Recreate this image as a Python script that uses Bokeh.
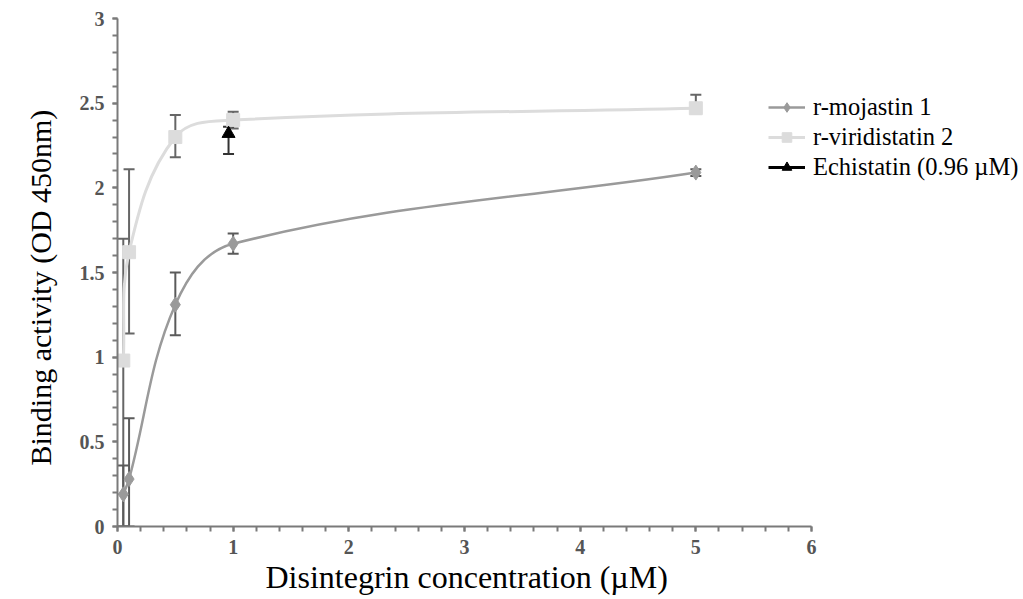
import numpy as np
from bokeh.plotting import figure
from bokeh.models import (ColumnDataSource, Whisker, TeeHead, Legend, LegendItem,
                          FixedTicker, Range1d, Title)
from bokeh.embed import file_html
from bokeh.resources import INLINE

# ---------------- data ----------------
conc = [0.05, 0.1, 0.5, 1, 5]
mojastin = [0.19, 0.28, 1.31, 1.67, 2.09]
mojastin_lo = [0.0, 0.0, 1.13, 1.61, 2.07]
mojastin_hi = [0.36, 0.64, 1.50, 1.73, 2.11]

viridistatin = [0.98, 1.62, 2.30, 2.40, 2.47]
viridistatin_lo = [0.0, 1.14, 2.18, 2.35, 2.44]
viridistatin_hi = [1.70, 2.11, 2.43, 2.45, 2.55]

echi_conc = [0.96]
echistatin = [2.32]
echistatin_lo = [2.20]
echistatin_hi = [2.36]

x_ticks = [0, 1, 2, 3, 4, 5, 6]
y_ticks = [0, 0.5, 1, 1.5, 2, 2.5, 3]

SERIF = "Liberation Serif"

W, H = 1022, 597
LEFT, TOP, BOTTOM = 117, 18, 71
AXIS_PX = 694.0            # pixel length of the 0..6 axis
frame_w = W - LEFT
x_end = 6 * frame_w / AXIS_PX

p = figure(width=W, height=H, output_backend="svg", toolbar_location=None,
           x_range=Range1d(0, x_end), y_range=Range1d(0, 3),
           min_border_left=LEFT, min_border_right=0, min_border_top=TOP,
           min_border_bottom=BOTTOM)
p.outline_line_color = None
p.grid.visible = False
p.background_fill_color = "white"


def smooth(xs, ys, sx=115.7, sy=169.5, k=0.36):
    """Bezier segments through the data points (smoothed line)."""
    P = np.column_stack([np.asarray(xs, float) * sx, np.asarray(ys, float) * sy])
    n = len(P)
    tang = []
    for i in range(n):
        if i == 0:
            t = P[1] - P[0]
        elif i == n - 1:
            t = P[-1] - P[-2]
        else:
            t = P[i + 1] - P[i - 1]
        tang.append(t / np.linalg.norm(t))
    x0, y0, x1, y1, cx0, cy0, cx1, cy1 = ([] for _ in range(8))
    for i in range(n - 1):
        d = np.linalg.norm(P[i + 1] - P[i])
        c0 = P[i] + tang[i] * d * k
        c1 = P[i + 1] - tang[i + 1] * d * k
        x0.append(P[i][0] / sx); y0.append(P[i][1] / sy)
        x1.append(P[i + 1][0] / sx); y1.append(P[i + 1][1] / sy)
        cx0.append(c0[0] / sx); cy0.append(c0[1] / sy)
        cx1.append(c1[0] / sx); cy1.append(c1[1] / sy)
    return ColumnDataSource(dict(x0=x0, y0=y0, x1=x1, y1=y1,
                                 cx0=cx0, cy0=cy0, cx1=cx1, cy1=cy1))


MOJ = "#9a9a9a"
VIR = "#dcdcdc"
ERR = "#5a5a5a"

# curves
c_vir = p.bezier(x0="x0", y0="y0", x1="x1", y1="y1", cx0="cx0", cy0="cy0",
                 cx1="cx1", cy1="cy1", source=smooth(conc, viridistatin),
                 line_color=VIR, line_width=3)
c_moj = p.bezier(x0="x0", y0="y0", x1="x1", y1="y1", cx0="cx0", cy0="cy0",
                 cx1="cx1", cy1="cy1", source=smooth(conc, mojastin),
                 line_color=MOJ, line_width=2.5)
c_ech = p.line(echi_conc, echistatin, line_color="black", line_width=3)


def add_err(xs, lo, hi, color):
    src = ColumnDataSource(dict(x=xs, lo=lo, hi=hi))
    p.add_layout(Whisker(source=src, base="x", lower="lo", upper="hi",
                         line_color=color, line_width=2,
                         upper_head=TeeHead(size=11, line_color=color, line_width=2),
                         lower_head=TeeHead(size=11, line_color=color, line_width=2)))


add_err(conc, viridistatin_lo, viridistatin_hi, "#666666")
add_err(conc, mojastin_lo, mojastin_hi, ERR)
add_err(echi_conc, echistatin_lo, echistatin_hi, "#333333")

# markers
r_vir = p.scatter(conc, viridistatin, marker="square", size=13, fill_color=VIR,
                  line_color=VIR)
r_moj = p.scatter(conc, mojastin, marker="diamond", size=15, fill_color=MOJ,
                  line_color=MOJ)
r_ech = p.scatter(echi_conc, echistatin, marker="triangle", size=13,
                  fill_color="black", line_color="black")

legend = Legend(items=[
    LegendItem(label="r-mojastin 1", renderers=[c_moj, r_moj]),
    LegendItem(label="r-viridistatin 2", renderers=[c_vir, r_vir]),
    LegendItem(label="Echistatin (0.96 \u00b5M)", renderers=[c_ech, r_ech]),
], location=(651, 345), padding=0, margin=0, spacing=2,
    label_text_font=SERIF, label_text_font_size="24.5px", label_text_color="black",
    glyph_width=37, glyph_height=24, label_height=24, label_standoff=8,
    border_line_color=None, background_fill_alpha=0)
p.add_layout(legend, "center")

# axes
for ax in (p.xaxis[0], p.yaxis[0]):
    ax.axis_line_color = "#7a7a7a"
    ax.axis_line_width = 2
    ax.major_tick_line_color = "#7a7a7a"
    ax.minor_tick_line_color = "#7a7a7a"
    ax.major_tick_line_width = 2
    ax.minor_tick_line_width = 2
    ax.major_tick_in = 0
    ax.minor_tick_in = 0
    ax.major_tick_out = 5
    ax.minor_tick_out = 5
    ax.major_label_text_font = SERIF
    ax.major_label_text_font_size = "20px"
    ax.major_label_text_font_style = "bold"
    ax.major_label_text_color = "#555555"

p.xaxis.bounds = (0, 6)
p.xaxis.ticker = FixedTicker(ticks=x_ticks,
                             minor_ticks=[v / 5 for v in range(0, 31)])
p.yaxis.ticker = FixedTicker(ticks=y_ticks,
                             minor_ticks=[v / 10 for v in range(0, 31)])
p.xaxis.major_label_overrides = {t: str(t) for t in x_ticks}
p.yaxis.major_label_overrides = {t: (str(int(t)) if float(t).is_integer() else str(t))
                                 for t in y_ticks}
p.xaxis.major_label_standoff = 8
p.yaxis.major_label_standoff = 8

# axis titles (as side titles so they can be offset like the reference)
x_title = Title(text="Disintegrin concentration (\u00b5M)", align="left",
                offset=148, standoff=0, text_font=SERIF, text_font_size="32px",
                text_font_style="normal", text_color="black")
y_title = Title(text="Binding activity (OD 450nm)", align="left",
                offset=61, standoff=36, vertical_align="top",
                text_font=SERIF, text_font_size="30px",
                text_font_style="normal", text_color="black")
p.add_layout(x_title, "below")
p.add_layout(y_title, "left")

open("out.html", "w").write(file_html(p, INLINE))
